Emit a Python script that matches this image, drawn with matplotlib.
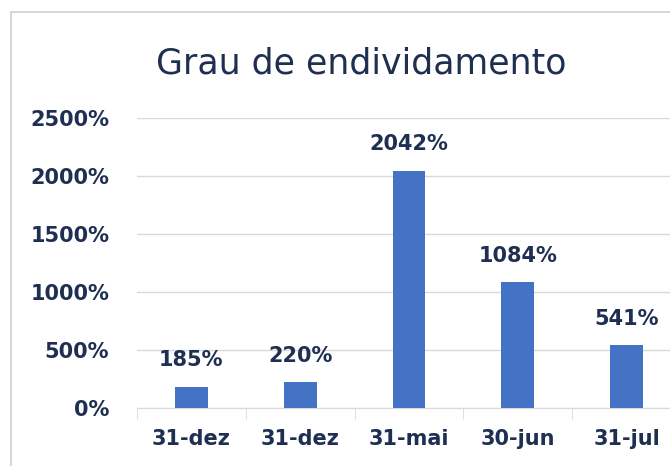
import matplotlib.pyplot as plt
import numpy as np
from matplotlib.patches import Rectangle

categories = ['31-dez', '31-dez', '31-mai', '30-jun', '31-jul']
values = [185, 220, 2042, 1084, 541]
yticks = [0, 500, 1000, 1500, 2000, 2500]

bar_color = '#4472C4'
text_color = '#1f2f52'
grid_color = '#d9d9d9'

plt.rcParams['font.family'] = ['DejaVu Sans']

fig = plt.figure(figsize=(6.7, 4.66), dpi=100)
W, H = 670, 466
left, right = 137 / W, 681 / W
bottom, top = (H - 408) / H, (H - 118) / H
ax = fig.add_axes([left, bottom, right - left, top - bottom])

# chart border (cropped on right/bottom)
fig.patches.append(Rectangle((11 / W, -0.1), 1.2, (H - 12) / H + 0.1,
                             transform=fig.transFigure, fill=False,
                             edgecolor='#d0d0d0', linewidth=1.2))

x = np.arange(len(categories))
bars = ax.bar(x, values, width=0.30, color=bar_color, zorder=3)

ax.set_xlim(-0.5, len(categories) - 0.5)
ax.set_ylim(0, 2500)
ax.set_yticks(yticks)
ax.set_yticklabels([f'{v}%' for v in yticks])
ax.yaxis.grid(True, color=grid_color, linewidth=1)
ax.set_axisbelow(True)

for s in ['top', 'right', 'left']:
    ax.spines[s].set_visible(False)
ax.spines['bottom'].set_color(grid_color)

ax.set_xticks(x)
ax.set_xticklabels(categories)
ax.set_xticks(np.arange(len(categories) + 1) - 0.5, minor=True)
ax.tick_params(axis='x', which='major', length=0, pad=15)
ax.tick_params(axis='x', which='minor', length=8, color=grid_color)
ax.tick_params(axis='y', length=0, pad=20)

for lab in ax.get_xticklabels() + ax.get_yticklabels():
    lab.set_fontsize(15)
    lab.set_fontweight('bold')
    lab.set_color(text_color)

for b, v in zip(bars, values):
    ax.annotate(f'{v}%', (b.get_x() + b.get_width() / 2, v),
                xytext=(0, 12), textcoords='offset points',
                ha='center', va='bottom', fontsize=15, fontweight='bold',
                color=text_color)

fig.text(361 / W, (H - 63) / H, 'Grau de endividamento', ha='center', va='center',
         fontsize=25, color=text_color)

fig.savefig('out.png', dpi=100)
